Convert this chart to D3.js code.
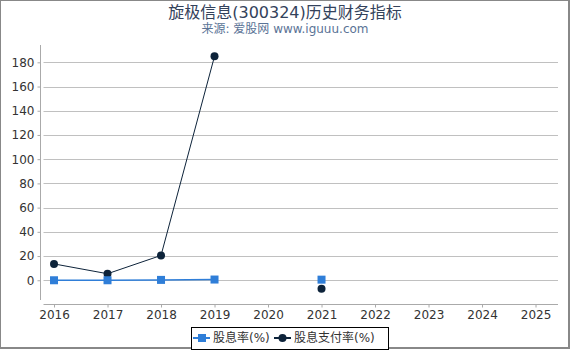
<!DOCTYPE html>
<html>
<head>
<meta charset="utf-8">
<script src="https://cdn.jsdelivr.net/npm/d3@7"></script>
<style>
  body { margin: 0; background: #fff; }
  svg { display: block; font-family: "DejaVu Sans", "Noto Sans CJK SC", sans-serif; }
</style>
</head>
<body>
<div id="chart"></div>
<script>
const width = 570;
const height = 350;

const years = [2016, 2017, 2018, 2019, 2020, 2021, 2022, 2023, 2024, 2025];
const yTicks = [0, 20, 40, 60, 80, 100, 120, 140, 160, 180];
// null = no data for that year
const dividendYield = [0, 0, 0.3, 0.6, null, 0.5, null, null, null, null];
const payoutRatio = [13.5, 5.4, 20.5, 185, null, -7, null, null, null, null];

const seriesNames = ["股息率(%)", "股息支付率(%)"];
const colors = ["#2f7ed8", "#0d233a"];

const svg = d3.select("#chart").append("svg")
    .attr("width", width)
    .attr("height", height);

// outer frame
svg.append("rect")
    .attr("x", 0).attr("y", 0)
    .attr("width", 569).attr("height", 348)
    .attr("fill", "none")
    .attr("stroke", "#888")
    .attr("stroke-width", 2);

svg.append("text")
    .attr("x", width / 2).attr("y", 18)
    .attr("text-anchor", "middle")
    .style("font-size", "16px")
    .style("fill", "#33425b")
    .text("旋极信息(300324)历史财务指标");

svg.append("text")
    .attr("x", width / 2).attr("y", 33)
    .attr("text-anchor", "middle")
    .style("font-size", "12px")
    .style("fill", "#5a7396")
    .text("来源: 爱股网 www.iguuu.com");

const x = d3.scaleLinear().domain([2015.738, 2025.42]).range([40, 558]);
const y = d3.scaleLinear().domain([-16.3, 194.3]).range([300, 45]);

// grid lines
svg.append("g")
    .selectAll("line")
    .data(yTicks)
    .enter().append("line")
    .attr("x1", 43.5).attr("x2", 558)
    .attr("y1", d => Math.round(y(d)) + 0.5)
    .attr("y2", d => Math.round(y(d)) + 0.5)
    .attr("stroke", "#c0c0c0")
    .attr("stroke-width", 1);

// y axis
const yAxis = svg.append("g")
    .attr("transform", "translate(40.5,0)")
    .call(d3.axisLeft(y).tickValues(yTicks).tickSize(3).tickPadding(3));
yAxis.select(".domain").attr("stroke", "#aaa").attr("d", `M0,45V300`);
yAxis.selectAll(".tick line").attr("stroke", "#aaa");
yAxis.selectAll(".tick text")
    .style("font-size", "12px")
    .style("font-family", "DejaVu Sans")
    .style("fill", "#333");

// x axis
const xAxis = svg.append("g")
    .attr("transform", "translate(0,304.5)")
    .call(d3.axisBottom(x).tickValues(years).tickFormat(d3.format("d")).tickSize(3).tickPadding(3));
xAxis.select(".domain").attr("stroke", "#aaa").attr("d", `M43.5,0H558`);
xAxis.selectAll(".tick line").attr("stroke", "#aaa");
xAxis.selectAll(".tick text")
    .style("font-size", "12px")
    .style("font-family", "DejaVu Sans")
    .style("fill", "#333");

const line = d3.line()
    .defined(d => d.v !== null)
    .x(d => x(d.year))
    .y(d => y(d.v));

const series = [dividendYield, payoutRatio].map(vals =>
    years.map((year, i) => ({ year, v: vals[i] })));

// payout ratio (navy, circles)
svg.append("path")
    .datum(series[1])
    .attr("d", line)
    .attr("fill", "none")
    .attr("stroke", colors[1])
    .attr("stroke-width", 1);
svg.append("g")
    .selectAll("circle")
    .data(series[1].filter(d => d.v !== null))
    .enter().append("circle")
    .attr("cx", d => x(d.year))
    .attr("cy", d => y(d.v))
    .attr("r", 4)
    .attr("fill", colors[1]);

// dividend yield (blue, squares)
svg.append("path")
    .datum(series[0])
    .attr("d", line)
    .attr("fill", "none")
    .attr("stroke", colors[0])
    .attr("stroke-width", 1.5);
svg.append("g")
    .selectAll("rect")
    .data(series[0].filter(d => d.v !== null))
    .enter().append("rect")
    .attr("x", d => x(d.year) - 4)
    .attr("y", d => y(d.v) - 4)
    .attr("width", 8)
    .attr("height", 8)
    .attr("fill", colors[0]);

// legend
const legend = svg.append("g");
legend.append("rect")
    .attr("x", 191.5).attr("y", 327.5)
    .attr("width", 197).attr("height", 22)
    .attr("fill", "#fff")
    .attr("stroke", "#000")
    .attr("stroke-width", 1);

const ly = 338;
legend.append("line")
    .attr("x1", 193).attr("x2", 210).attr("y1", ly).attr("y2", ly)
    .attr("stroke", colors[0]).attr("stroke-width", 2);
legend.append("rect")
    .attr("x", 198).attr("y", ly - 4).attr("width", 8).attr("height", 8)
    .attr("fill", colors[0]);
legend.append("text")
    .attr("x", 213).attr("y", ly + 4)
    .style("font-size", "12px")
    .style("fill", "#333")
    .text(seriesNames[0]);

legend.append("line")
    .attr("x1", 274).attr("x2", 291).attr("y1", ly).attr("y2", ly)
    .attr("stroke", colors[1]).attr("stroke-width", 2);
legend.append("circle")
    .attr("cx", 282.5).attr("cy", ly).attr("r", 4)
    .attr("fill", colors[1]);
legend.append("text")
    .attr("x", 294).attr("y", ly + 4)
    .style("font-size", "12px")
    .style("fill", "#333")
    .text(seriesNames[1]);
</script>
</body>
</html>
